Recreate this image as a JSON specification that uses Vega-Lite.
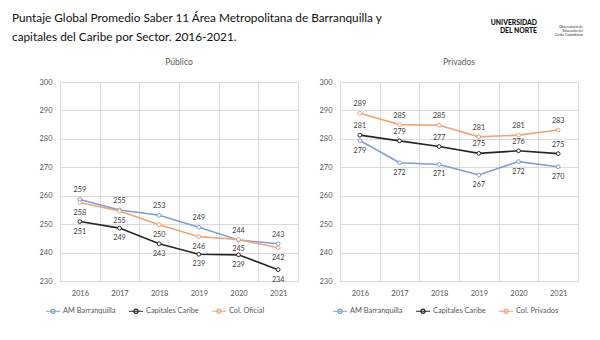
{
  "$schema": "https://vega.github.io/schema/vega-lite/v6.json",
  "padding": {"left": 12, "top": 12, "right": 5, "bottom": 5},
  "background": "white",
  "title": {
    "text": ["Puntaje Global Promedio Saber 11 Área Metropolitana de Barranquilla y", "capitales del Caribe por Sector. 2016-2021."],
    "anchor": "start", "frame": "bounds", "fontSize": 11.8, "fontWeight": "normal", "color": "#111111", "lineHeight": 19, "offset": -24
  },
  "datasets": {
    "publico": [
      {"anio": "2016", "serie": "AM Barranquilla", "valor": 258.7},
      {"anio": "2017", "serie": "AM Barranquilla", "valor": 255.0},
      {"anio": "2018", "serie": "AM Barranquilla", "valor": 253.1},
      {"anio": "2019", "serie": "AM Barranquilla", "valor": 248.9},
      {"anio": "2020", "serie": "AM Barranquilla", "valor": 244.4},
      {"anio": "2021", "serie": "AM Barranquilla", "valor": 243.1},
      {"anio": "2016", "serie": "Capitales Caribe", "valor": 250.9},
      {"anio": "2017", "serie": "Capitales Caribe", "valor": 248.6},
      {"anio": "2018", "serie": "Capitales Caribe", "valor": 243.1},
      {"anio": "2019", "serie": "Capitales Caribe", "valor": 239.4},
      {"anio": "2020", "serie": "Capitales Caribe", "valor": 239.2},
      {"anio": "2021", "serie": "Capitales Caribe", "valor": 234.0},
      {"anio": "2016", "serie": "Col. Oficial", "valor": 257.6},
      {"anio": "2017", "serie": "Col. Oficial", "valor": 254.6},
      {"anio": "2018", "serie": "Col. Oficial", "valor": 249.8},
      {"anio": "2019", "serie": "Col. Oficial", "valor": 245.6},
      {"anio": "2020", "serie": "Col. Oficial", "valor": 244.6},
      {"anio": "2021", "serie": "Col. Oficial", "valor": 241.7}
    ],
    "privado": [
      {"anio": "2016", "serie": "AM Barranquilla", "valor": 279.4},
      {"anio": "2017", "serie": "AM Barranquilla", "valor": 271.6},
      {"anio": "2018", "serie": "AM Barranquilla", "valor": 271.0},
      {"anio": "2019", "serie": "AM Barranquilla", "valor": 267.3},
      {"anio": "2020", "serie": "AM Barranquilla", "valor": 272.0},
      {"anio": "2021", "serie": "AM Barranquilla", "valor": 270.2},
      {"anio": "2016", "serie": "Capitales Caribe", "valor": 281.3},
      {"anio": "2017", "serie": "Capitales Caribe", "valor": 279.3},
      {"anio": "2018", "serie": "Capitales Caribe", "valor": 277.3},
      {"anio": "2019", "serie": "Capitales Caribe", "valor": 274.9},
      {"anio": "2020", "serie": "Capitales Caribe", "valor": 275.8},
      {"anio": "2021", "serie": "Capitales Caribe", "valor": 274.8},
      {"anio": "2016", "serie": "Col. Privados", "valor": 289.0},
      {"anio": "2017", "serie": "Col. Privados", "valor": 285.0},
      {"anio": "2018", "serie": "Col. Privados", "valor": 284.8},
      {"anio": "2019", "serie": "Col. Privados", "valor": 280.7},
      {"anio": "2020", "serie": "Col. Privados", "valor": 281.3},
      {"anio": "2021", "serie": "Col. Privados", "valor": 283.1}
    ]
  },
  "spacing": 14,
  "resolve": {"scale": {"color": "independent"}, "legend": {"color": "independent"}},
  "hconcat": [
    {
      "title": {
        "text": [" ", " "],
        "anchor": "end", "frame": "bounds", "fontSize": 6.8, "lineHeight": 8, "fontWeight": 900, "color": "#ffffff", "offset": 23
      },
      "vconcat": [
        {
          "width": 238,
          "height": 199,
          "title": {"text": "Público"},
          "data": {"name": "publico"},
          "encoding": {
            "x": {"field": "anio", "type": "ordinal", "scale": {"type": "band", "paddingInner": 0, "paddingOuter": 0}, "bandPosition": 0.5,
                  "axis": {"tickBand": "extent", "grid": true, "labelAngle": 0, "labelPadding": 8}},
            "y": {"field": "valor", "type": "quantitative", "scale": {"domain": [230, 300], "nice": false, "zero": false},
                  "axis": {"values": [230, 240, 250, 260, 270, 280, 290, 300], "labelPadding": 8, "minExtent": 48, "maxExtent": 48}}
          },
          "layer": [
            {"mark": {"type": "line", "strokeWidth": 1.6},
             "encoding": {"color": {"field": "serie", "type": "nominal",
                "scale": {"domain": ["AM Barranquilla", "Capitales Caribe", "Col. Oficial"], "range": ["#7F9ED3", "#262626", "#EFA577"]},
                "legend": {"title": null}}}},
            {"mark": {"type": "point", "filled": false, "fill": "white", "size": 14, "strokeWidth": 1, "opacity": 1},
             "encoding": {"color": {"field": "serie", "type": "nominal"}}},
            {"transform": [{"filter": "datum.serie == 'AM Barranquilla'"}],
             "mark": {"type": "text", "dy": -9, "fontSize": 7.2, "color": "#404040"},
             "encoding": {"text": {"field": "valor", "type": "quantitative", "format": ".0f"}}},
            {"transform": [{"filter": "datum.serie != 'AM Barranquilla'"}],
             "mark": {"type": "text", "dy": 10, "fontSize": 7.2, "color": "#404040"},
             "encoding": {"text": {"field": "valor", "type": "quantitative", "format": ".0f"}}}
          ]
        }
      ]
    },
    {
      "title": {
        "text": ["Observatorio de", "Educación del", "Caribe Colombiano"],
        "anchor": "end", "frame": "bounds", "fontSize": 3.4, "lineHeight": 4, "fontWeight": "normal", "color": "#333333", "offset": -17, "dx": 5
      },
      "vconcat": [
        {
          "title": {
            "text": ["UNIVERSIDAD", "DEL   NORTE"],
            "anchor": "end", "frame": "bounds", "fontSize": 6.8, "lineHeight": 8, "fontWeight": 900, "color": "#111111", "offset": 23, "dx": -41
          },
          "vconcat": [
            {
              "width": 238,
              "height": 199,
              "title": {"text": "Privados"},
              "data": {"name": "privado"},
              "encoding": {
                "x": {"field": "anio", "type": "ordinal", "scale": {"type": "band", "paddingInner": 0, "paddingOuter": 0}, "bandPosition": 0.5,
                      "axis": {"tickBand": "extent", "grid": true, "labelAngle": 0, "labelPadding": 8}},
                "y": {"field": "valor", "type": "quantitative", "scale": {"domain": [230, 300], "nice": false, "zero": false},
                      "axis": {"values": [230, 240, 250, 260, 270, 280, 290, 300], "labelPadding": 8, "minExtent": 28, "maxExtent": 28}}
              },
              "layer": [
                {"mark": {"type": "line", "strokeWidth": 1.6},
                 "encoding": {"color": {"field": "serie", "type": "nominal",
                    "scale": {"domain": ["AM Barranquilla", "Capitales Caribe", "Col. Privados"], "range": ["#7F9ED3", "#262626", "#EFA577"]},
                    "legend": {"title": null}}}},
                {"mark": {"type": "point", "filled": false, "fill": "white", "size": 14, "strokeWidth": 1, "opacity": 1},
                 "encoding": {"color": {"field": "serie", "type": "nominal"}}},
                {"transform": [{"filter": "datum.serie == 'AM Barranquilla'"}],
                 "mark": {"type": "text", "dy": 10, "fontSize": 7.2, "color": "#404040"},
                 "encoding": {"text": {"field": "valor", "type": "quantitative", "format": ".0f"}}},
                {"transform": [{"filter": "datum.serie != 'AM Barranquilla'"}],
                 "mark": {"type": "text", "dy": -9, "fontSize": 7.2, "color": "#404040"},
                 "encoding": {"text": {"field": "valor", "type": "quantitative", "format": ".0f"}}}
              ]
            }
          ]
        }
      ]
    }
  ],
  "config": {
    "font": "Lato",
    "view": {"stroke": null},
    "title": {"fontSize": 8.5, "fontWeight": "normal", "color": "#595959", "offset": 12},
    "axis": {"labelColor": "#595959", "labelFontSize": 7.5, "gridColor": "#D9D9D9", "gridWidth": 1, "domain": false, "ticks": false, "title": null},
    "legend": {"orient": "bottom", "direction": "horizontal", "labelColor": "#595959", "labelFontSize": 7.4, "labelOffset": 2, "columnPadding": 10, "offset": 6,
               "symbolType": "M-1,0H1M0.3,0A0.3,0.3 0 1,1 -0.3,0A0.3,0.3 0 1,1 0.3,0", "symbolSize": 200, "symbolStrokeWidth": 1.2, "symbolFillColor": "white",
               "layout": {"anchor": "middle"}}
  }
}
